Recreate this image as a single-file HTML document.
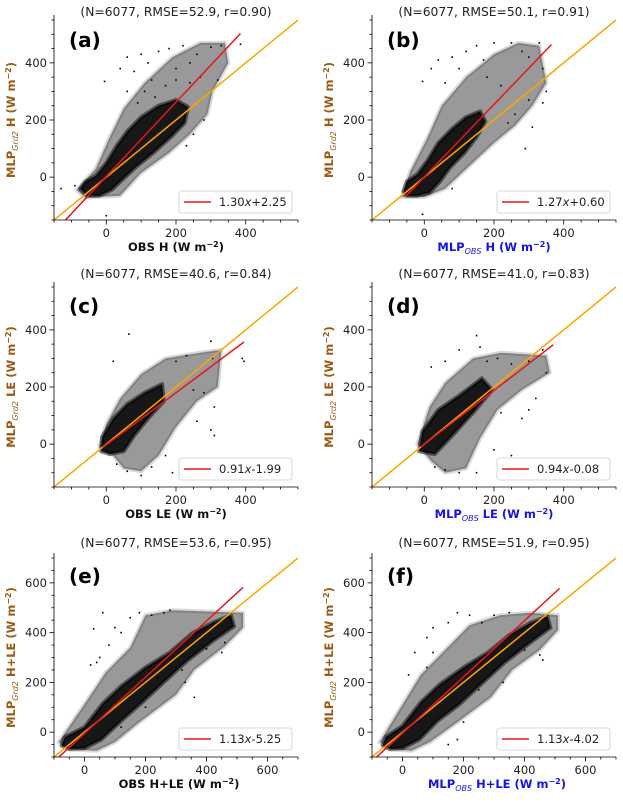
<!DOCTYPE html>
<html><head><meta charset="utf-8"><style>
body{margin:0;background:#fff;}
svg{display:block;font-family:"DejaVu Sans","Liberation Sans",sans-serif;}
</style></head><body>
<svg id="fig" width="623" height="803" viewBox="0 0 623 803" xmlns="http://www.w3.org/2000/svg"></svg>
<script>
// ---- data ----
const panelLabels = ["(a)","(b)","(c)","(d)","(e)","(f)"];
const titles = ["(N=6077, RMSE=52.9, r=0.90)","(N=6077, RMSE=50.1, r=0.91)","(N=6077, RMSE=40.6, r=0.84)","(N=6077, RMSE=41.0, r=0.83)","(N=6077, RMSE=53.6, r=0.95)","(N=6077, RMSE=51.9, r=0.95)"];
const slopes = [1.30,1.27,0.91,0.94,1.13,1.13];
const intercepts = [2.25,0.60,-1.99,-0.08,-5.25,-4.02];
const legendText = ["1.30","1.27","0.91","0.94","1.13","1.13"];
const legendInt = ["+2.25","+0.60","-1.99","-0.08","-5.25","-4.02"];
const fitXRange = [[-130,385],[-55,365],[-10,395],[-10,370],[-85,520],[-85,515]];
const yVar = ["H","H","LE","LE","H+LE","H+LE"];
const xTicksRow12 = [0,200,400];
const yTicksRow12 = [0,200,400];
const xTicksRow3 = [0,200,400,600];
const yTicksRow3 = [0,200,400,600];
const cores = [
 [[-75,-40],[-60,-15],[-30,5],[0,50],[30,110],[60,160],[100,210],[150,250],[200,270],[235,245],[225,190],[185,140],[135,85],[85,35],[45,-10],[15,-45],[-20,-65],[-55,-65]],
 [[-60,-50],[-50,-15],[-20,10],[10,60],[40,120],[80,170],[120,210],[160,230],[175,195],[150,140],[115,85],[75,35],[45,-15],[15,-55],[-20,-65],[-50,-65]],
 [[-15,-25],[-12,25],[20,90],[60,140],[110,180],[160,210],[165,150],[120,90],[80,30],[50,-25],[10,-35]],
 [[-15,-25],[-5,45],[40,120],[100,170],[165,230],[195,190],[140,110],[80,30],[30,-35]],
 [[-75,-55],[-65,-20],[0,20],[60,115],[120,185],[200,260],[280,320],[350,395],[420,440],[480,470],[490,425],[425,370],[335,285],[255,195],[185,115],[125,50],[55,-30],[0,-65],[-50,-68]],
 [[-65,-55],[-55,-20],[0,25],[60,120],[120,190],[200,260],[280,320],[350,390],[420,440],[475,465],[485,420],[425,365],[335,280],[255,190],[185,110],[115,45],[55,-30],[0,-65],[-40,-68]]
];
const halos = [
 [[-85,-45],[-30,30],[10,140],[50,240],[110,330],[190,420],[270,470],[340,470],[350,400],[305,300],[290,220],[240,150],[180,85],[100,15],[40,-65],[-60,-72]],
 [[-65,-70],[-40,20],[10,140],[50,250],[120,350],[200,430],[270,470],[330,460],[350,330],[310,250],[260,180],[200,120],[130,40],[60,-40],[0,-70]],
 [[-20,-10],[0,70],[40,160],[100,245],[170,300],[270,320],[330,330],[320,200],[260,150],[200,60],[150,-40],[100,-95],[50,-85],[20,-40]],
 [[-20,0],[15,130],[60,215],[140,300],[220,320],[350,310],[360,250],[280,190],[210,120],[160,20],[120,-85],[60,-100],[20,-60]],
 [[-85,-40],[10,130],[70,240],[150,340],[200,470],[290,490],[400,485],[520,480],[520,420],[460,345],[360,250],[300,150],[180,40],[100,-40],[40,-75],[-50,-70]],
 [[-75,-40],[0,110],[60,230],[140,330],[220,430],[320,470],[420,480],[510,470],[510,410],[450,330],[360,250],[290,140],[180,40],[90,-40],[30,-75],[-40,-70]]
];
const sparse = [
 [[-5,335],[40,380],[60,420],[100,430],[80,370],[120,400],[150,440],[180,450],[220,460],[260,430],[300,455],[330,460],[385,465],[200,380],[240,400],[270,350],[300,300],[320,340],[240,330],[110,300],[90,260],[130,340],[170,320],[200,340],[250,150],[230,110],[280,200],[-90,-30],[-130,-40],[0,-135],[140,280],[60,300]],
 [[-5,335],[20,380],[40,410],[80,420],[120,440],[150,460],[200,470],[250,470],[280,440],[300,420],[330,470],[340,380],[350,300],[340,260],[300,270],[310,175],[290,100],[170,410],[60,330],[100,380],[180,350],[220,320],[-5,-130],[80,-40],[240,190],[260,220]],
 [[65,385],[20,290],[300,360],[305,300],[390,300],[395,290],[310,130],[280,180],[250,190],[260,80],[300,50],[310,30],[190,-100],[100,-110],[60,-95],[30,-70],[170,-40],[130,-80],[-10,10],[200,290],[230,310]],
 [[20,270],[60,290],[100,330],[150,380],[160,340],[180,290],[210,300],[250,280],[300,290],[340,330],[350,250],[320,160],[300,120],[280,90],[250,-40],[200,-20],[150,-100],[100,-100],[60,-90],[30,-80],[220,110]],
 [[30,415],[60,480],[100,420],[120,400],[150,460],[180,480],[220,470],[260,480],[280,490],[40,280],[20,270],[80,350],[50,300],[400,335],[450,320],[460,360],[300,260],[320,250],[330,200],[360,140],[240,220],[200,100],[120,20]],
 [[-15,5],[40,320],[80,380],[100,420],[150,440],[180,480],[220,470],[260,440],[300,470],[350,480],[80,260],[20,230],[100,320],[400,330],[450,310],[460,290],[300,250],[330,200],[250,170],[200,40],[180,-30],[150,-50]]
];
// ---- layout ----
const colX = [54,372], W = 244;
const rowY = [[20,220],[287,487],[558,757]];
const lims = [[-150,550,-150,550],[-150,550,-150,550],[-100,700,-100,700]];
const NS="http://www.w3.org/2000/svg";
const svg=document.getElementById('fig');
function el(t,a,p){const e=document.createElementNS(NS,t);for(const k in a)e.setAttribute(k,a[k]);(p||svg).appendChild(e);return e;}

for(let i=0;i<6;i++){
 const row=Math.floor(i/2), col=i%2;
 const L=colX[col], R=L+W, T=rowY[row][0], B=rowY[row][1];
 const [x0,x1,y0,y1]=lims[row];
 const sx=v=>L+(v-x0)/(x1-x0)*(R-L);
 const sy=v=>B-(v-y0)/(y1-y0)*(B-T);
 const g=el('g',{});
 
 
 const cid='clip'+i;
 const cp=el('clipPath',{id:cid},g); el('rect',{x:L,y:T-8,width:W,height:B-T+8},cp);
 const plot=el('g',{'clip-path':'url(#'+cid+')'},g);
 const poly=(pts)=>pts.map(p=>sx(p[0]).toFixed(1)+','+sy(p[1]).toFixed(1)).join(' ');
 const h=el('polygon',{points:poly(halos[i]),fill:'#000','fill-opacity':0.4,stroke:'#000','stroke-opacity':0.15,'stroke-width':4,'stroke-linejoin':'round'},plot);
 
 
 const c=el('polygon',{points:poly(cores[i]),fill:'#000','fill-opacity':0.85,stroke:'#000','stroke-opacity':0.5,'stroke-width':4,'stroke-linejoin':'round'},plot);
 
 
 sparse[i].forEach(p=>{
  const d=el('rect',{x:sx(p[0])-0.8,y:sy(p[1])-0.8,width:1.6,height:1.6,fill:'#000'},plot);
  
  
 });
 const one=el('line',{x1:sx(x0),y1:sy(x0),x2:sx(x1),y2:sy(x1),stroke:'orange','stroke-width':1.5},plot);
 
 
 const fa=fitXRange[i][0], fb=fitXRange[i][1];
 const fit=el('line',{x1:sx(fa),y1:sy(slopes[i]*fa+intercepts[i]),x2:sx(fb),y2:sy(slopes[i]*fb+intercepts[i]),stroke:'#e8141e','stroke-width':1.5},plot);
 
 
 // spines
 el('line',{x1:L,y1:T-5,x2:L,y2:B,stroke:'#000','stroke-width':0.8},g);
 el('line',{x1:L,y1:B,x2:R,y2:B,stroke:'#000','stroke-width':0.8},g);
 const xt=row<2?xTicksRow12:xTicksRow3, yt=row<2?yTicksRow12:yTicksRow3;
 for(let v=Math.ceil(x0/50)*50;v<=x1;v+=50){const maj=v%200===0;el('line',{x1:sx(v),y1:B,x2:sx(v),y2:B+(maj?4.5:2.5),stroke:'#000','stroke-width':0.8},g);}
 for(let v=Math.ceil(y0/50)*50;v<=y1;v+=50){const maj=v%200===0;el('line',{x1:L,y1:sy(v),x2:L-(maj?4.5:2.5),y2:sy(v),stroke:'#000','stroke-width':0.8},g);}
 xt.forEach(v=>{const t=el('text',{x:sx(v),y:B+17,'font-size':11.5,'text-anchor':'middle',fill:'#222'},g);t.textContent=v;
  });
 yt.forEach(v=>{const t=el('text',{x:L-7,y:sy(v)+4,'font-size':11.5,'text-anchor':'end',fill:'#222'},g);t.textContent=v;
  });
 // title
 const tt=el('text',{x:(L+R)/2,y:(row===0?16:(row===1?278:547)),'font-size':12.3,'text-anchor':'middle',fill:'#222'},g);
 tt.textContent=titles[i];
 
 const pl=el('text',{x:L+15,y:(row===0?47:(row===1?313:583)),'font-size':20,'font-weight':'bold',fill:'#000'},g);
 pl.textContent=panelLabels[i];
 
 // x label
 const xl=el('text',{x:(L+R)/2+(row===2?3:0),y:B+31,'font-size':11.5,'font-weight':'bold','text-anchor':'middle',fill:col?'#1414e6':'#111'},g);
 
 if(col){xl.innerHTML='MLP<tspan font-size="8" font-style="italic" font-weight="normal" dy="3">OBS</tspan><tspan dy="-3"> '+yVar[i]+' (W m</tspan><tspan font-size="8" dy="-4">−2</tspan><tspan dy="4">)</tspan>';}
 else{xl.innerHTML='OBS '+yVar[i]+' (W m<tspan font-size="8" dy="-4">−2</tspan><tspan dy="4">)</tspan>';}
 // y label
 const cy=(T+B)/2, lx=L-39;
 const yl=el('text',{x:lx,y:cy,'font-size':11.5,'font-weight':'bold','text-anchor':'middle',fill:'#9c5a14',transform:'rotate(-90 '+lx+' '+cy+')'},g);
 
 yl.innerHTML='MLP<tspan font-size="8" font-style="italic" font-weight="normal" dy="3">Grd2</tspan><tspan dy="-3"> '+yVar[i]+' (W m</tspan><tspan font-size="8" dy="-4">−2</tspan><tspan dy="4">)</tspan>';
 // legend
 const lg=el('g',{},g);
 
 const bx=R-119, by=B-29;
 el('rect',{x:bx,y:by,width:113,height:22,rx:2.5,fill:'#fff',stroke:'#ccc','stroke-width':0.8},lg);
 el('line',{x1:bx+5,y1:by+11,x2:bx+32,y2:by+11,stroke:'#e8141e','stroke-width':1.5},lg);
 const lt=el('text',{x:bx+40,y:by+15,'font-size':11.5,fill:'#222'},lg);
 lt.innerHTML=legendText[i]+'<tspan font-style="italic">x</tspan>'+legendInt[i];
}
</script>
</body></html>
